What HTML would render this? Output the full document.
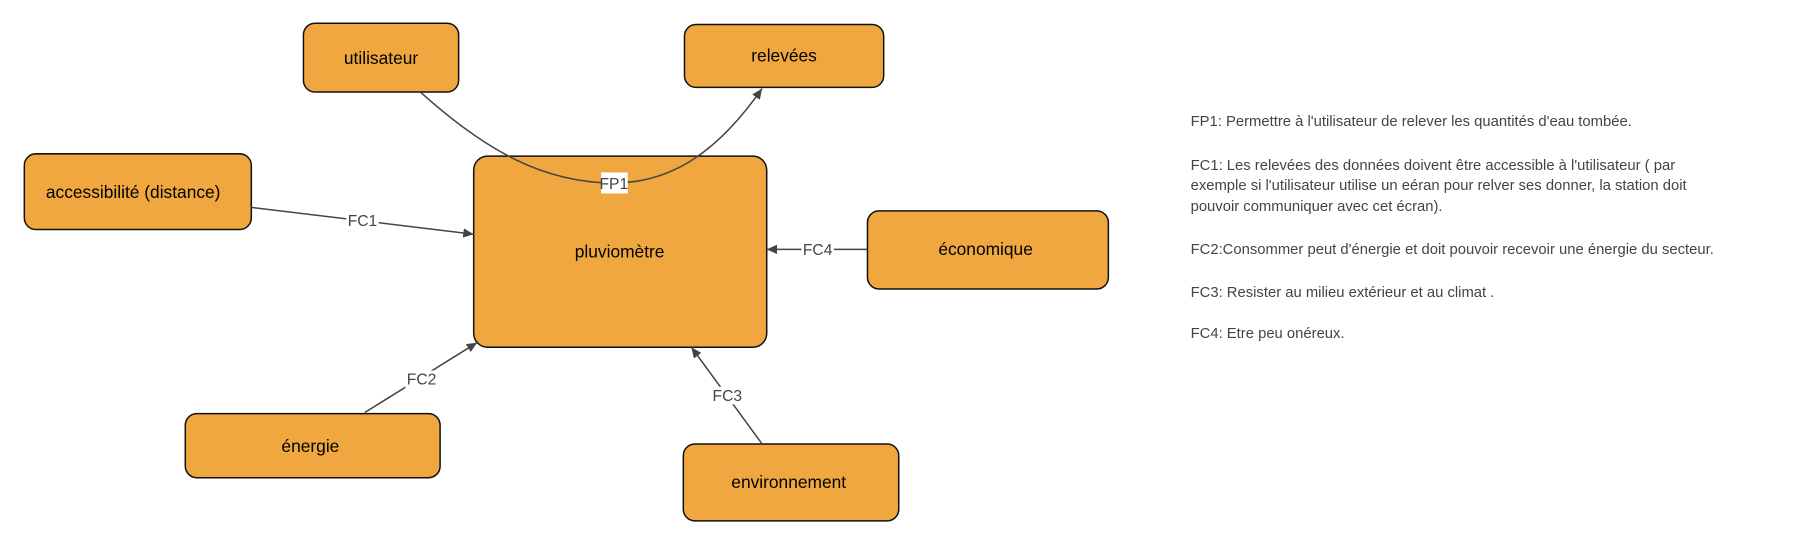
<!DOCTYPE html>
<html><head><meta charset="utf-8"><style>
html,body{margin:0;padding:0;background:#fff;}
svg{display:block;}
</style></head><body>
<svg width="1816" height="543" viewBox="0 0 1568 466" preserveAspectRatio="none" xmlns="http://www.w3.org/2000/svg">
<defs><marker id="a" markerWidth="10" markerHeight="10" refX="9" refY="5" orient="auto" markerUnits="userSpaceOnUse"><path d="M0,1 L9,5 L0,9 Z" fill="#444"/></marker></defs>
<g fill="#f0a73f" stroke="#111" stroke-width="1.3">
<rect x="262" y="20" width="134" height="59" rx="10"/>
<rect x="591" y="21" width="172" height="54" rx="10"/>
<rect x="21" y="132" width="196" height="65" rx="10"/>
<rect x="409" y="134" width="253" height="164" rx="12"/>
<rect x="749" y="181" width="208" height="67" rx="10"/>
<rect x="160" y="355" width="220" height="55" rx="10"/>
<rect x="590" y="381" width="186" height="66" rx="10"/>
</g>
<g stroke="#444" stroke-width="1.3" fill="none">
<path d="M363 79 C 420 130 470 157 530 157 C 580 157 620 130 658 76" marker-end="url(#a)"/>
<line x1="217" y1="178" x2="409" y2="201" marker-end="url(#a)"/>
<line x1="749" y1="214" x2="662" y2="214" marker-end="url(#a)"/>
<line x1="315" y1="354" x2="412" y2="294" marker-end="url(#a)"/>
<line x1="658" y1="381" x2="597" y2="298" marker-end="url(#a)"/>
</g>
<g font-family="Liberation Sans, sans-serif" font-size="13.5" fill="#444" text-anchor="middle">
<rect x="519" y="148" width="23" height="18" fill="#fff"/>
<text x="530" y="162">FP1</text>
<rect x="299" y="182" width="28" height="15" fill="#fff"/><text x="313" y="194">FC1</text>
<rect x="692" y="207" width="28" height="15" fill="#fff"/><text x="706" y="219">FC4</text>
<rect x="350" y="318" width="28" height="15" fill="#fff"/><text x="364" y="330">FC2</text>
<rect x="614" y="332" width="28" height="15" fill="#fff"/><text x="628" y="344">FC3</text>
</g>
<g font-family="Liberation Sans, sans-serif" font-size="15" fill="#000" text-anchor="middle">
<text x="329" y="55">utilisateur</text>
<text x="677" y="53">relevées</text>
<text x="115" y="170">accessibilité (distance)</text>
<text x="535" y="221">pluviomètre</text>
<text x="851" y="219">économique</text>
<text x="268" y="388">énergie</text>
<text x="681" y="419">environnement</text>
</g>
<g font-family="Liberation Sans, sans-serif" font-size="12.8" fill="#444">
<text x="1028" y="108">FP1: Permettre à l'utilisateur de relever les quantités d'eau tombée.</text>
<text x="1028" y="146">FC1: Les relevées des données doivent être accessible à l'utilisateur ( par</text>
<text x="1028" y="163">exemple si l'utilisateur utilise un eéran pour relver ses donner, la station doit</text>
<text x="1028" y="181">pouvoir communiquer avec cet écran).</text>
<text x="1028" y="218">FC2:Consommer peut d'énergie et doit pouvoir recevoir une énergie du secteur.</text>
<text x="1028" y="255">FC3: Resister au milieu extérieur et au climat .</text>
<text x="1028" y="290">FC4: Etre peu onéreux.</text>
</g>
</svg>
</body></html>
